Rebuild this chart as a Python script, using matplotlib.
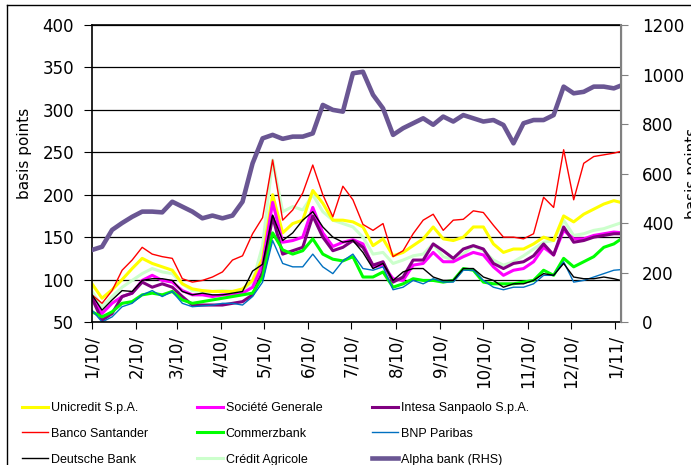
import matplotlib
matplotlib.use("Agg")
import matplotlib.pyplot as plt
from matplotlib.lines import Line2D
import pandas as pd

# ==========================================================
# DATA (weekly readings, basis points)
# ==========================================================

dates = pd.date_range("2010-01-01", periods=54, freq="7D")

unicredit = [95, 78, 88, 100, 113, 125, 119, 115, 111, 95, 89, 87, 86, 86, 86, 89, 99, 125,
             200, 155, 166, 170, 205, 190, 170, 170, 168, 162, 140, 148, 128, 132, 140, 148,
             162, 148, 146, 150, 162, 162, 142, 132, 136, 136, 142, 150, 146, 175, 168, 177,
             183, 189, 193, 190]
soc_gen = [80, 60, 72, 80, 84, 99, 105, 99, 97, 87, 82, 82, 80, 82, 82, 84, 91, 118,
           191, 144, 146, 150, 185, 155, 139, 144, 147, 142, 115, 117, 101, 99, 117, 119,
           132, 121, 121, 127, 132, 129, 115, 105, 111, 113, 121, 138, 129, 158, 148, 148,
           152, 154, 156, 155]
intesa = [78, 52, 60, 80, 84, 97, 91, 95, 91, 80, 70, 70, 70, 70, 72, 74, 82, 109,
          174, 130, 134, 138, 175, 150, 134, 138, 146, 138, 117, 121, 97, 103, 123, 123,
          142, 134, 125, 136, 140, 136, 119, 113, 119, 121, 128, 142, 129, 162, 144, 146,
          150, 152, 154, 154]
santander = [82, 72, 87, 111, 123, 138, 130, 127, 125, 101, 97, 99, 103, 109, 123, 128, 154, 173,
             241, 170, 182, 202, 235, 200, 174, 210, 194, 165, 158, 166, 127, 134, 154, 170,
             177, 158, 170, 171, 181, 179, 164, 150, 150, 148, 154, 197, 185, 253, 194, 237,
             245, 247, 249, 252]
commerz = [62, 56, 62, 72, 74, 82, 84, 82, 86, 76, 72, 74, 76, 78, 80, 82, 84, 103,
           155, 135, 130, 134, 148, 130, 124, 122, 127, 103, 103, 109, 91, 95, 101, 99,
           99, 97, 99, 113, 111, 97, 95, 95, 95, 97, 99, 111, 105, 125, 115, 121,
           127, 138, 142, 150]
bnp = [64, 50, 56, 68, 72, 82, 87, 80, 86, 72, 68, 69, 70, 72, 72, 70, 80, 97,
       146, 119, 115, 115, 130, 115, 107, 122, 130, 113, 111, 115, 88, 91, 99, 95,
       101, 97, 97, 111, 111, 99, 91, 88, 91, 91, 95, 105, 105, 121, 97, 99,
       103, 107, 111, 112]
deutsche = [82, 64, 76, 87, 86, 99, 101, 101, 99, 86, 82, 84, 82, 82, 84, 86, 110, 118,
            176, 146, 155, 170, 180, 162, 150, 144, 146, 132, 113, 119, 99, 109, 113, 113,
            103, 99, 99, 113, 113, 103, 99, 91, 95, 95, 99, 107, 105, 119, 103, 101,
            101, 103, 101, 98]
credit_agricole = [86, 68, 80, 91, 99, 107, 113, 109, 107, 95, 87, 86, 86, 87, 86, 87, 97, 140,
                   241, 180, 186, 182, 200, 180, 170, 166, 162, 150, 130, 132, 119, 123, 128, 130,
                   142, 127, 123, 130, 140, 134, 123, 117, 121, 128, 136, 144, 146, 170, 152, 154,
                   158, 160, 164, 168]
alpha = [291, 304, 372, 400, 425, 446, 446, 443, 486, 466, 446, 419, 430, 419, 430, 486, 641, 742,
         756, 740, 749, 749, 762, 877, 857, 850, 1005, 1011, 918, 863, 756, 783, 803, 823,
         797, 830, 810, 836, 823, 810, 816, 796, 722, 803, 816, 816, 836, 951, 924, 930,
         951, 951, 944, 960]

tick_dates = pd.date_range("2010-01-01", "2011-01-01", freq="MS")
tick_labels = ["1/10/", "2/10/", "3/10/", "4/10/", "5/10/", "6/10/", "7/10/",
               "8/10/", "9/10/", "10/10/", "11/10/", "12/10/", "1/11/"]

# ==========================================================
# FIGURE
# ==========================================================

W, H = 691, 465
fig = plt.figure(figsize=(W / 100, H / 100), dpi=100)
ax = fig.add_axes([92 / W, 1 - 322 / H, (621 - 92) / W, (322 - 25) / H])

thick = 2.2
thin = 1.0

h = {}
h["Crédit Agricole"], = ax.plot(dates, credit_agricole, color="#CCFFCC", lw=thick)
h["Unicredit S.p.A."], = ax.plot(dates, unicredit, color="#FFFF00", lw=thick)
h["Société Generale"], = ax.plot(dates, soc_gen, color="#FF00FF", lw=thick)
h["Intesa Sanpaolo S.p.A."], = ax.plot(dates, intesa, color="#800080", lw=thick)
h["Commerzbank"], = ax.plot(dates, commerz, color="#00FF00", lw=thick)
h["Banco Santander"], = ax.plot(dates, santander, color="#FF0000", lw=thin)
h["BNP Paribas"], = ax.plot(dates, bnp, color="#0070C0", lw=thin)
h["Deutsche Bank"], = ax.plot(dates, deutsche, color="black", lw=thin)

ax.set_xlim(pd.Timestamp("2010-01-01"), pd.Timestamp("2011-01-05"))
ax.set_ylim(50, 400)
ax.set_yticks(range(50, 401, 50))
ax.set_xticks(tick_dates)
ax.set_xticklabels(tick_labels, rotation=90)
ax.tick_params(axis="x", direction="out", length=5, pad=4, labelsize=12)
ax.tick_params(axis="y", direction="out", length=6, pad=7, labelsize=12)
ax.grid(axis="y", color="black", lw=0.9)
for s in ["left", "bottom", "top"]:
    ax.spines[s].set_color("black")
    ax.spines[s].set_linewidth(1.2)

ax2 = ax.twinx()
h["Alpha bank (RHS)"], = ax2.plot(dates, alpha, color="#6A5693", lw=3.3)
ax2.set_ylim(0, 1200)
ax2.set_yticks(range(0, 1201, 200))
ax2.tick_params(axis="y", direction="out", length=5, pad=10, labelsize=12,
                color="#808080")
ax2.spines["right"].set_color("#808080")
ax2.spines["right"].set_linewidth(1.5)
for s in ["left", "bottom", "top"]:
    ax2.spines[s].set_visible(False)

fig.text(25 / W, 1 - 153 / H, "basis points", rotation=90, ha="center",
         va="center", fontsize=11)
# right label runs off the edge, as in the source picture
fig.text(692 / W, 1 - 173 / H, "basis points", rotation=90, ha="center",
         va="center", fontsize=11)

# ==========================================================
# LEGEND (three columns)
# ==========================================================

columns = [
    ["Unicredit S.p.A.", "Banco Santander", "Deutsche Bank"],
    ["Société Generale", "Commerzbank", "Crédit Agricole"],
    ["Intesa Sanpaolo S.p.A.", "BNP Paribas", "Alpha bank (RHS)"],
]
col_x = [22, 197, 372]

for names, x in zip(columns, col_x):
    fig.legend([h[n] for n in names], names, loc="upper left",
               bbox_to_anchor=(x / W, 1 - 402 / H), frameon=False,
               borderpad=0, borderaxespad=0, handlelength=2.1,
               handletextpad=0.2, labelspacing=1.1,
               prop={"family": "Liberation Sans", "size": 9})

# frame of the whole picture
fig.add_artist(Line2D([7 / W, 7 / W], [0, 1 - 5 / H], transform=fig.transFigure,
                      color="black", lw=1))
fig.add_artist(Line2D([7 / W, 1], [1 - 5 / H, 1 - 5 / H], transform=fig.transFigure,
                      color="black", lw=1))

fig.savefig("out.png", dpi=100)
